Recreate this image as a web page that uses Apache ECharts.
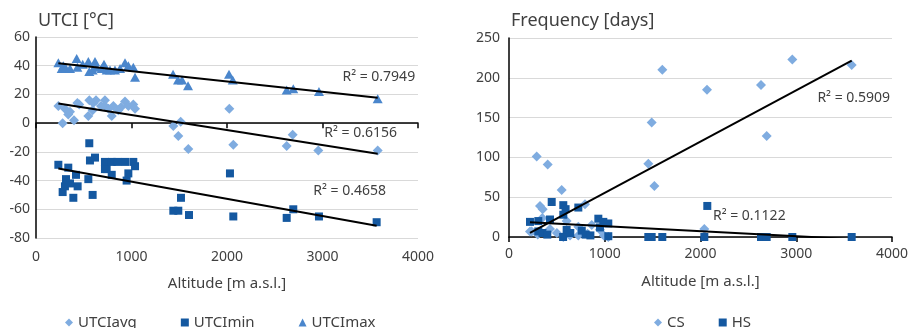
<!DOCTYPE html>
<html><head><meta charset="utf-8">
<script src="https://cdn.jsdelivr.net/npm/echarts@6/dist/echarts.min.js"></script>
<style>html,body{margin:0;padding:0;background:#fff}#c{width:910px;height:328px}</style>
</head><body><div id="c"></div>
<script>
// [altitude (m a.s.l.), UTCI (°C)]
const utciAvg = [[234,12],[279,0],[303,10],[338,6],[356,8],[398,2],[433,14],[453,13],[548,5],[558,16],[593,9],[600,14],[628,16],[680,12],[722,16],[722,12],[760,10],[793,5],[810,12],[862,9],[890,11],[932,15],[967,12],[1019,13],[1037,10],
  [1438,-2],[1515,1],[1490,-9],[1595,-18],[2024,10],[2066,-15],[2625,-16],[2688,-8],[2956,-19],[3578,-19]];
const utciMin = [[234,-29],[279,-48],[303,-44],[314,-39],[338,-31],[356,-42],[391,-52],[419,-36],[436,-44],[548,-39],[558,-14],[565,-26],[593,-50],[618,-24],[722,-27],[722,-32],[740,-32],[793,-27],[793,-36],[852,-27],[932,-27],[949,-40],[967,-35],[1019,-27],[1037,-30],
  [1438,-61],[1490,-61],[1518,-52],[1602,-64],[2031,-35],[2066,-65],[2625,-66],[2694,-60],[2963,-65],[3567,-69]];
const utciMax = [[234,42],[269,38],[286,40],[314,38],[356,38],[426,45],[433,39],[489,41],[548,43],[558,36],[593,37],[618,43],[635,39],[688,38],[712,41],[740,37],[775,37],[827,37],[880,38],[932,42],[967,40],[1019,39],[1037,32],
  [1435,34],[1487,30],[1529,30],[1592,26],[2021,34],[2060,30],[2625,23],[2694,24],[2963,22],[3578,17]];
// [altitude (m a.s.l.), frequency (days)]
const csDays = [[219,7],[237,7],[289,101],[300,3],[324,39],[348,24],[352,35],[404,91],[428,10],[500,5],[550,59],[567,0],[602,20],[637,2],[724,13],[724,2],[794,41],[820,4],[864,15],[950,9],[990,2],[1037,0],
  [1455,92],[1490,144],[1518,64],[1601,210],[2040,10],[2068,185],[2632,191],[2691,127],[2959,223],[3579,216]];
const hsDays = [[219,19],[306,20],[306,7],[350,5],[400,3],[428,22],[446,44],[565,0],[567,40],[567,28],[591,35],[602,9],[640,5],[724,37],[760,8],[800,3],[850,2],[933,23],[950,12],[985,19],[1037,17],[1037,1],
  [1455,0],[1490,0],[1601,0],[2040,0],[2071,39],[2632,0],[2691,0],[2959,0],[3579,0]];
const r2Labels = {avg:'R² = 0.6156', min:'R² = 0.4658', max:'R² = 0.7949', cs:'R² = 0.5909', hs:'R² = 0.1122'};
const xTicks = {min:0, max:4000, step:1000};

function fit(pts){
  const n=pts.length; let sx=0,sy=0,sxx=0,sxy=0,x0=Infinity,x1=-Infinity;
  pts.forEach(([x,y])=>{sx+=x;sy+=y;sxx+=x*x;sxy+=x*y;x0=Math.min(x0,x);x1=Math.max(x1,x);});
  const b=(n*sxy-sx*sy)/(n*sxx-sx*sx), a=(sy-b*sx)/n;
  return [[x0,a+b*x0],[x1,a+b*x1]];
}
const TXT='#404040', FONT='Noto Sans';
const cLight='#7FACE0', cDark='#1458A0', cMid='#4A86CC';
const plain = v => String(v);
function trend(name,pts,xi,yi,coord,pos){
  return {name:name,type:'line',xAxisIndex:xi,yAxisIndex:yi,data:fit(pts),symbol:'none',z:5,
    lineStyle:{color:'#000',width:2},silent:true,
    markPoint:{symbol:'circle',symbolSize:0,silent:true,data:[{coord:coord}],
      label:{show:true,position:pos,distance:0,formatter:r2Labels[name],color:TXT,fontSize:14,fontFamily:FONT}}};
}
const tick={show:true,length:5,lineStyle:{color:'#000',width:1.5}};
const chart=echarts.init(document.getElementById('c'));
chart.setOption({
  animation:false,
  textStyle:{fontFamily:FONT,color:TXT},
  title:[
    {text:'UTCI [°C]',left:33,top:7,textStyle:{fontSize:18,fontWeight:'normal',color:TXT,fontFamily:FONT}},
    {text:'Frequency [days]',left:506,top:7,textStyle:{fontSize:18,fontWeight:'normal',color:TXT,fontFamily:FONT}}
  ],
  legend:[
    {data:['UTCIavg','UTCImin','UTCImax'],left:60,top:310,itemWidth:8,itemHeight:8,itemGap:44,
      textStyle:{fontSize:15,color:TXT,fontFamily:FONT}},
    {data:['CS','HS'],left:649,top:310,itemWidth:8,itemHeight:8,itemGap:34,
      textStyle:{fontSize:15,color:TXT,fontFamily:FONT}}
  ],
  grid:[
    {left:36,top:37,width:382,height:201,containLabel:false,outerBoundsMode:'none'},
    {left:509,top:38,width:383,height:199,containLabel:false,outerBoundsMode:'none'}
  ],
  xAxis:[
    {type:'value',gridIndex:0,position:'bottom',min:xTicks.min,max:xTicks.max,interval:xTicks.step,
      axisLine:{show:false,onZero:false},axisTick:{show:false},
      splitLine:{show:false},axisLabel:{margin:12,fontSize:14,color:TXT,formatter:plain},
      name:'Altitude [m a.s.l.]',nameLocation:'middle',nameGap:38,nameTextStyle:{fontSize:15,color:TXT}},
    {type:'value',gridIndex:1,min:xTicks.min,max:xTicks.max,interval:xTicks.step,
      axisLine:{lineStyle:{color:'#000',width:1.5}},axisTick:tick,
      splitLine:{show:false},axisLabel:{margin:10,fontSize:14,color:TXT,formatter:plain},
      name:'Altitude [m a.s.l.]',nameLocation:'middle',nameGap:37,nameTextStyle:{fontSize:15,color:TXT}},
    {type:'value',gridIndex:0,position:'bottom',min:xTicks.min,max:xTicks.max,interval:xTicks.step,
      axisLine:{show:true,onZero:true,onZeroAxisIndex:0,lineStyle:{color:'#000',width:1.5}},axisTick:tick,
      splitLine:{show:false},axisLabel:{show:false}}
  ],
  yAxis:[
    {type:'value',gridIndex:0,min:-80,max:60,interval:20,
      axisLine:{show:true,onZero:false,lineStyle:{color:'#000',width:1.5}},axisTick:{show:false},
      splitLine:{lineStyle:{color:'#d9d9d9',width:1}},axisLabel:{margin:6,fontSize:14,color:TXT,formatter:plain}},
    {type:'value',gridIndex:1,min:0,max:250,interval:50,
      axisLine:{show:true,onZero:false,lineStyle:{color:'#000',width:1.5}},axisTick:{show:false},
      splitLine:{lineStyle:{color:'#d9d9d9',width:1}},axisLabel:{margin:9,fontSize:14,color:TXT,formatter:plain}}
  ],
  series:[
    {name:'UTCIavg',type:'scatter',xAxisIndex:0,yAxisIndex:0,data:utciAvg,symbol:'diamond',symbolSize:10,itemStyle:{color:cLight,opacity:1}},
    {name:'UTCImin',type:'scatter',xAxisIndex:0,yAxisIndex:0,data:utciMin,symbol:'rect',symbolSize:8,itemStyle:{color:cDark,opacity:1}},
    {name:'UTCImax',type:'scatter',xAxisIndex:0,yAxisIndex:0,data:utciMax,symbol:'triangle',symbolSize:[10,9],itemStyle:{color:cMid,opacity:1}},
    trend('avg',utciAvg,0,0,[3780,-6.8],'left'),
    trend('min',utciMin,0,0,[3665,-47],'left'),
    trend('max',utciMax,0,0,[3970,32.3],'left'),
    {name:'CS',type:'scatter',xAxisIndex:1,yAxisIndex:1,data:csDays,symbol:'diamond',symbolSize:10,itemStyle:{color:cLight,opacity:1}},
    {name:'HS',type:'scatter',xAxisIndex:1,yAxisIndex:1,data:hsDays,symbol:'rect',symbolSize:8,itemStyle:{color:cDark,opacity:1}},
    trend('cs',csDays,1,1,[3980,175],'left'),
    trend('hs',hsDays,1,1,[2130,26],'right')
  ]
});
</script></body></html>
